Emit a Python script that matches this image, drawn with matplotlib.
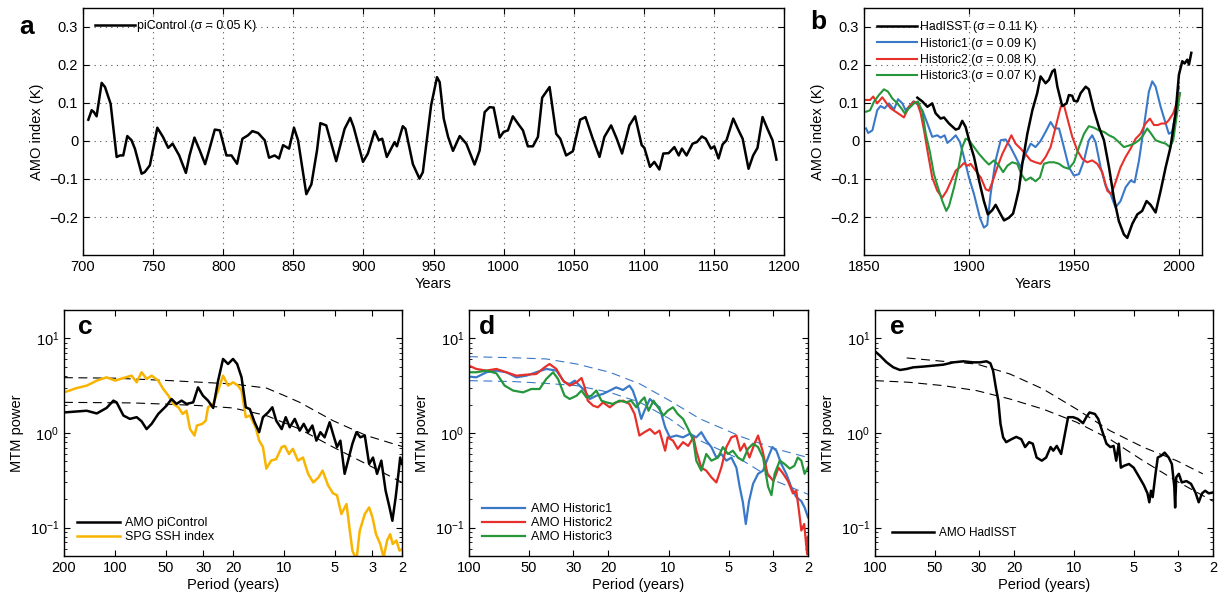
import matplotlib
matplotlib.use("Agg")
import matplotlib.pyplot as plt
from matplotlib.ticker import FixedLocator, FixedFormatter, NullLocator

plt.rcParams['font.family'] = ['Liberation Sans', 'DejaVu Sans']
plt.rcParams['xtick.direction'] = 'in'
plt.rcParams['ytick.direction'] = 'in'
plt.rcParams['xtick.top'] = True
plt.rcParams['ytick.right'] = True
plt.rcParams['axes.linewidth'] = 1.0

BLUE = '#3a78c8'
RED = '#e8302a'
GREEN = '#25963a'
ORANGE = '#f8b400'

# ---- panel a: piControl AMO index ----
a_years = [703.8, 706.2, 707.8, 709.7, 713.3, 715.7, 719.7, 724, 726.4, 728.7, 731.6, 734.6, 737,
           741.8, 744, 747.7, 753, 757, 760.8, 763.9, 768.6, 773.4, 776, 779.5, 783.3, 787.1,
           789.9, 794, 797.6, 802.3, 805.9, 809.9, 813.7, 817.7, 820.8, 824.9, 829.6, 832.7,
           836.7, 839.8, 842.7, 847, 850.5, 853.4, 859.3, 862.9, 866.9, 869.3, 873.5, 880.6,
           886.6, 890.6, 893, 899.7, 903.2, 908, 911, 913.4, 916.7, 922.2, 923.9, 928.1, 930,
           935.3, 940, 942.4, 948.3, 952.5, 954.4, 957.3, 960.4, 963.9, 968.7, 973.4, 979.3,
           982.9, 986.5, 990, 992.9, 997.2, 1000, 1003.1, 1006.6, 1010.2, 1013.8, 1017.3,
           1020.9, 1024.5, 1027.5, 1032.8, 1037.5, 1040.4, 1044.6, 1049.4, 1054.6, 1058.4,
           1063.6, 1068.4, 1071.9, 1076.7, 1080.7, 1084.5, 1089.7, 1093.8, 1098.5, 1100.4,
           1104.4, 1107.5, 1111.1, 1113.9, 1117.7, 1121.8, 1124.9, 1127.2, 1130.5, 1134.8,
           1137.8, 1141.4, 1144.2, 1147.9, 1150.3, 1153.3, 1156.2, 1159, 1163.8, 1167.6,
           1170.5, 1174.7, 1178, 1181.1, 1184.7, 1188.2, 1191.8, 1194.6]
a_amo = [0.056, 0.081, 0.076, 0.065, 0.153, 0.142, 0.098, -0.042, -0.038, -0.038, 0.013, 0.002,
         -0.020, -0.086, -0.082, -0.064, 0.035, 0.011, -0.018, -0.007, -0.038, -0.084, -0.038,
         0.009, -0.025, -0.061, -0.025, 0.030, 0.028, -0.038, -0.038, -0.060, 0.006, 0.015,
         0.026, 0.021, 0.002, -0.044, -0.038, -0.046, -0.011, -0.020, 0.035, 0.002, -0.140,
         -0.114, -0.025, 0.047, 0.041, -0.053, 0.032, 0.061, 0.037, -0.055, -0.033, 0.026,
         0.002, 0.006, -0.042, -0.003, -0.014, 0.039, 0.032, -0.061, -0.099, -0.082, 0.094,
         0.168, 0.155, 0.059, 0.011, -0.026, 0.013, -0.007, -0.062, -0.025, 0.076, 0.089,
         0.088, 0.009, 0.024, 0.028, 0.065, 0.046, 0.028, -0.014, -0.014, 0.011, 0.114, 0.142,
         0.019, 0.006, -0.038, -0.027, 0.056, 0.063, 0.006, -0.042, 0.011, 0.041, 0.006,
         -0.033, 0.041, 0.065, -0.011, -0.018, -0.068, -0.055, -0.075, -0.033, -0.032, -0.016,
         -0.038, -0.020, -0.038, -0.007, -0.003, 0.012, 0.006, -0.020, -0.014, -0.046, -0.009,
         0.002, 0.059, 0.028, 0.006, -0.073, -0.038, -0.018, 0.063, 0.032, 0.002, -0.049]

# ---- panel b: observed and historic AMO ----
had_years = [1875.4, 1877.8, 1880.2, 1882.5, 1884.1, 1886.5, 1888.1, 1890.5, 1893.7, 1895.2,
             1896.8, 1898.4, 1900.5, 1902.4, 1904.8, 1907.1, 1909.0, 1911.1, 1912.7, 1915.1,
             1916.7, 1919, 1921, 1922.2, 1923.8, 1925.4, 1927.8, 1930.2, 1932.5, 1934.1, 1936.5,
             1938.1, 1939.7, 1940.8, 1942.1, 1944.4, 1946.5, 1947.6, 1949.2, 1950, 1951.6,
             1953.2, 1955.6, 1957.1, 1959.5, 1961.9, 1964.3, 1966.7, 1969, 1971.4, 1973.8,
             1975.4, 1977.8, 1980.2, 1982.5, 1984.6, 1986.5, 1988.9, 1991.3, 1993.7, 1996,
             1998.4, 2000, 2001.6, 2002.7, 2004, 2004.8, 2005.9]
had_amo = [0.114, 0.104, 0.090, 0.099, 0.073, 0.059, 0.062, 0.046, 0.030, 0.033, 0.053, 0.037,
           -0.007, -0.042, -0.104, -0.158, -0.193, -0.182, -0.168, -0.193, -0.209, -0.202,
           -0.191, -0.165, -0.127, -0.060, 0.019, 0.081, 0.126, 0.170, 0.152, 0.161, 0.183,
           0.188, 0.143, 0.092, 0.099, 0.121, 0.119, 0.106, 0.104, 0.126, 0.143, 0.136, 0.081,
           0.037, 0.002, -0.069, -0.149, -0.211, -0.246, -0.255, -0.218, -0.193, -0.184,
           -0.158, -0.168, -0.188, -0.131, -0.069, -0.016, 0.073, 0.174, 0.210, 0.204, 0.214,
           0.201, 0.232]

h1_years = [1851, 1852, 1854, 1856.3, 1857.9, 1859.8, 1861.9, 1864.3, 1866.2, 1868.3, 1869.8,
            1871.4, 1873.5, 1875.4, 1877.8, 1880.2, 1882.5, 1884.9, 1886.5, 1888.4, 1889.7,
            1891.3, 1893.7, 1895.7, 1897.6, 1900, 1902.4, 1905.2, 1907.1, 1908.7, 1910.3,
            1912.7, 1915.1, 1917.5, 1919.8, 1922.2, 1924.6, 1927, 1929.4, 1931.7, 1934.1,
            1936.5, 1938.9, 1940.8, 1942.9, 1945.2, 1947.6, 1950, 1952.4, 1954.8, 1957.1,
            1958.7, 1960.3, 1962.7, 1965.1, 1967.5, 1969.8, 1972.2, 1974.6, 1977, 1978.9, 1981,
            1983.3, 1985.7, 1987.3, 1988.9, 1991.3, 1993.7, 1995.2, 1996.8, 1998.4, 2000]
h1_amo = [0.033, 0.021, 0.028, 0.081, 0.092, 0.086, 0.099, 0.083, 0.110, 0.099, 0.081, 0.090,
          0.104, 0.097, 0.081, 0.046, 0.011, 0.015, 0.009, 0.015, -0.005, 0.002, 0.015, -0.003,
          -0.042, -0.096, -0.140, -0.202, -0.228, -0.221, -0.140, -0.051, 0.002, 0.004, -0.016,
          -0.042, -0.069, -0.034, -0.007, -0.016, 0.0, 0.024, 0.050, 0.033, 0.033, -0.016,
          -0.069, -0.091, -0.087, -0.051, 0.002, 0.015, -0.003, -0.069, -0.118, -0.140, -0.175,
          -0.158, -0.122, -0.104, -0.109, -0.051, 0.037, 0.130, 0.157, 0.143, 0.090, 0.046,
          0.019, 0.024, 0.073, 0.143]

h2_years = [1851, 1852.9, 1854.4, 1856.3, 1858.7, 1860.8, 1862.7, 1865.1, 1867.5, 1869,
            1871.4, 1873.8, 1875.4, 1877, 1878.6, 1880.2, 1882.5, 1884.9, 1887.3, 1889.4,
            1891.6, 1893.7, 1895.7, 1897.6, 1899.2, 1900.8, 1903.2, 1905.6, 1908, 1909.5,
            1911.1, 1913.5, 1915.9, 1918.3, 1920.2, 1922.2, 1924.6, 1927, 1929.4, 1931.7,
            1934.1, 1936.5, 1938.9, 1941.3, 1943.7, 1945.2, 1947.1, 1949.2, 1951.6, 1954,
            1956.3, 1958.7, 1961.1, 1963.5, 1965.9, 1967.8, 1969.8, 1972.2, 1974.6, 1977,
            1979.4, 1981.7, 1984.1, 1986.2, 1988.1, 1990, 1991.6, 1993.7, 1995.2, 1997.3,
            1999.2, 2000.5]
h2_amo = [0.108, 0.108, 0.117, 0.099, 0.115, 0.099, 0.086, 0.077, 0.068, 0.062, 0.090, 0.104,
          0.099, 0.073, 0.028, -0.025, -0.096, -0.131, -0.149, -0.131, -0.104, -0.078, -0.069,
          -0.058, -0.065, -0.060, -0.078, -0.096, -0.127, -0.131, -0.109, -0.069, -0.034,
          -0.007, 0.015, -0.007, -0.020, -0.035, -0.051, -0.056, -0.060, -0.042, -0.016,
          0.037, 0.090, 0.095, 0.055, 0.011, -0.025, -0.047, -0.056, -0.051, -0.060, -0.082,
          -0.131, -0.140, -0.109, -0.069, -0.042, -0.020, 0.006, 0.019, 0.046, 0.059, 0.042,
          0.042, 0.046, 0.046, 0.055, 0.073, 0.104, 0.126]

h3_years = [1851, 1852.9, 1854.8, 1857.1, 1859.5, 1861.4, 1863.5, 1865.9, 1867.8, 1869.4,
            1871.4, 1873.8, 1875.7, 1877.8, 1879.4, 1881.4, 1883.3, 1885.2, 1887.3, 1889.2,
            1890.5, 1892.9, 1895.2, 1896.8, 1898.4, 1900, 1902.4, 1904.8, 1907.5, 1909.5,
            1911.9, 1914.3, 1916.3, 1918.3, 1920.6, 1923, 1924.9, 1927, 1929.4, 1931.7,
            1933.8, 1935.7, 1938.1, 1940.5, 1942.9, 1945.2, 1947.6, 1950, 1952.4, 1954.8,
            1957.1, 1959.5, 1961.9, 1964.3, 1966.7, 1969, 1971.4, 1973.8, 1976.2, 1978.6,
            1981, 1983, 1984.9, 1986.8, 1988.9, 1991.3, 1993.7, 1995.7, 1997.3, 1998.9, 2000.5]
h3_amo = [0.077, 0.081, 0.104, 0.121, 0.136, 0.130, 0.112, 0.099, 0.086, 0.073, 0.086, 0.099,
          0.104, 0.077, 0.019, -0.029, -0.087, -0.122, -0.158, -0.184, -0.171, -0.122, -0.065,
          -0.016, 0.006, 0.002, -0.016, -0.034, -0.051, -0.062, -0.051, -0.065, -0.082,
          -0.065, -0.056, -0.060, -0.087, -0.104, -0.096, -0.106, -0.096, -0.060, -0.056,
          -0.056, -0.060, -0.069, -0.073, -0.056, -0.016, 0.019, 0.039, 0.035, 0.028, 0.024,
          0.015, 0.009, -0.003, -0.016, -0.012, -0.007, 0.002, 0.015, 0.033, 0.019, 0.002,
          -0.003, -0.007, -0.016, 0.002, 0.064, 0.126]

# ---- panel c: MTM spectra, piControl AMO and SPG SSH index ----
c_amo_period = [200, 146.8, 128, 112, 102, 97.7, 89, 81.5, 74.3, 69.5, 64.9, 60.6, 55.4, 49.4,
                46.2, 43.2, 40.3, 37.7, 34.4, 32.2, 30.1, 28.1, 26.2, 24.5, 22.9, 21.4, 20.0,
                18.9, 17.8, 16.8, 15.9, 14.9, 14.0, 13.3, 12.4, 11.7, 11.1, 10.3, 9.75, 9.23,
                8.62, 8.06, 7.63, 7.19, 6.78, 6.42, 6.08, 5.74, 5.36, 5.12, 4.85, 4.63, 4.37,
                4.17, 3.93, 3.72, 3.53, 3.32, 3.13, 2.97, 2.81, 2.65, 2.50, 2.37, 2.28, 2.18,
                2.10, 2.05, 2.0]
c_amo_power = [1.65, 1.72, 1.61, 1.84, 2.20, 2.11, 1.53, 1.41, 1.47, 1.33, 1.10, 1.25, 1.59,
               1.95, 2.29, 2.03, 2.20, 2.03, 2.11, 3.04, 2.48, 2.20, 1.84, 3.58, 6.07, 5.37,
               6.07, 5.37, 3.88, 1.87, 1.79, 1.30, 1.02, 1.47, 1.65, 1.87, 1.35, 1.10, 1.47,
               1.15, 1.41, 1.06, 1.25, 1.02, 1.20, 0.83, 1.02, 0.90, 1.30, 0.98, 0.71, 0.83,
               0.37, 0.51, 0.77, 1.02, 0.90, 0.94, 0.47, 0.55, 0.37, 0.51, 0.245, 0.163, 0.118,
               0.209, 0.37, 0.55, 0.47]
c_ssh_period = [200, 168, 146.8, 128, 112, 99.7, 89, 79.7, 74.3, 69.5, 64.9, 60.6, 55.4, 51.7,
                48.2, 45.1, 42.1, 39.7, 37.7, 35.9, 33.8, 32.7, 30.4, 29.0, 28.1, 26.2, 24.5,
                22.9, 21.4, 20.0, 18.7, 17.8, 16.8, 15.9, 14.7, 14.0, 13.3, 12.7, 11.9, 11.1,
                10.3, 9.87, 9.33, 8.85, 8.25, 7.71, 7.19, 6.70, 6.23, 5.90, 5.48, 5.12, 4.85,
                4.57, 4.26, 4.07, 3.93, 3.72, 3.56, 3.32, 3.13, 2.99, 2.85, 2.69, 2.57, 2.45,
                2.35, 2.27, 2.16, 2.07, 2.0]
c_ssh_power = [2.69, 2.99, 3.17, 3.58, 3.88, 3.58, 3.82, 4.04, 3.44, 4.39, 3.73, 4.04, 3.58,
               2.92, 2.48, 2.03, 1.87, 1.59, 1.72, 1.10, 0.94, 1.20, 1.25, 1.35, 1.87, 2.03,
               2.81, 4.04, 3.17, 3.44, 3.17, 2.81, 1.47, 1.53, 1.15, 0.83, 0.71, 0.42, 0.51,
               0.53, 0.71, 0.73, 0.60, 0.68, 0.51, 0.55, 0.37, 0.30, 0.34, 0.40, 0.28, 0.23,
               0.22, 0.139, 0.177, 0.092, 0.057, 0.045, 0.092, 0.139, 0.163, 0.128, 0.085,
               0.067, 0.048, 0.073, 0.085, 0.067, 0.073, 0.057, 0.059]
c_upper_period = [200, 100, 50, 31.8, 20, 12.7, 10, 8.06, 5.12, 3.25, 2.0]
c_upper_power = [3.85, 3.8, 3.6, 3.45, 3.3, 2.99, 2.5, 2.11, 1.35, 0.94, 0.72]
c_lower_period = [200, 78, 50, 31.8, 20, 12.7, 8.06, 5.12, 3.25, 2.0]
c_lower_power = [2.11, 2.08, 2.02, 1.95, 1.84, 1.53, 1.10, 0.71, 0.47, 0.30]

# ---- panel d: MTM spectra, historic runs ----
d_h1_period = [100, 91.9, 81.8, 72.9, 65.0, 57.9, 51.6, 46.0, 41.0, 36.5, 33.2, 31.3, 29.5, 27.9,
               26.3, 24.8, 23.0, 21.3, 19.7, 18.3, 16.9, 15.7, 15.1, 14.5, 13.7, 13.2, 12.4,
               11.7, 11.1, 10.4, 9.86, 9.14, 8.46, 7.83, 7.26, 6.85, 6.47, 6.10, 5.76, 5.44,
               5.13, 4.84, 4.57, 4.40, 4.24, 4.10, 3.95, 3.77, 3.56, 3.36, 3.17, 3.02, 2.88,
               2.72, 2.57, 2.43, 2.29, 2.16, 2.08, 2.0]
d_h1_power = [3.95, 3.88, 4.39, 4.57, 4.39, 3.88, 4.04, 4.39, 4.76, 4.57, 3.44, 3.30, 3.58,
              3.17, 2.81, 2.29, 2.48, 2.59, 2.81, 3.04, 2.85, 3.17, 2.81, 2.20, 1.41, 1.72,
              2.29, 2.03, 1.87, 1.15, 0.90, 0.94, 0.90, 0.98, 0.90, 1.02, 0.83, 0.71, 0.55,
              0.60, 0.51, 0.55, 0.43, 0.27, 0.185, 0.109, 0.19, 0.29, 0.37, 0.40, 0.55, 0.71,
              0.65, 0.47, 0.37, 0.27, 0.21, 0.19, 0.163, 0.128]
d_h2_period = [100, 91.9, 81.8, 72.9, 65.0, 57.9, 51.6, 46.0, 41.8, 39.5, 36.5, 33.8, 31.3, 28.9,
               27.3, 26.3, 25.4, 23.9, 22.6, 21.3, 19.7, 18.3, 16.9, 15.7, 14.8, 14.0, 13.2,
               12.4, 11.7, 11.1, 10.4, 10.1, 9.5, 9.0, 8.46, 7.97, 7.5, 7.26, 6.85, 6.47, 6.10,
               5.76, 5.44, 5.13, 4.84, 4.57, 4.37, 4.17, 3.93, 3.71, 3.56, 3.38, 3.19, 2.98,
               2.81, 2.66, 2.52, 2.38, 2.29, 2.22, 2.16, 2.09, 2.02, 2.0]
d_h2_power = [5.16, 4.76, 4.57, 4.76, 4.39, 4.04, 4.14, 4.21, 4.95, 5.37, 4.76, 3.58, 3.17,
              3.44, 3.82, 3.04, 2.20, 1.95, 1.87, 2.11, 1.87, 2.11, 2.20, 2.03, 1.59, 0.94,
              1.02, 1.10, 0.98, 1.06, 0.65, 0.90, 0.83, 0.68, 0.80, 0.73, 0.90, 0.65, 0.43,
              0.40, 0.34, 0.30, 0.43, 0.71, 0.90, 0.94, 0.65, 0.77, 0.55, 0.77, 0.94, 0.65,
              0.37, 0.31, 0.43, 0.37, 0.31, 0.23, 0.245, 0.15, 0.093, 0.109, 0.052, 0.08]
d_h3_period = [100, 91.9, 81.8, 72.9, 66.3, 60.1, 53.6, 48.7, 44.3, 41.0, 37.9, 35.8, 33.2, 31.3,
               28.9, 27.3, 25.8, 24.4, 23.0, 21.7, 20.5, 19.0, 17.6, 16.3, 15.4, 14.5, 13.7,
               13.2, 12.6, 11.9, 11.3, 10.6, 10.1, 9.5, 9.0, 8.46, 7.97, 7.5, 7.26, 6.85, 6.47,
               6.10, 5.65, 5.34, 5.04, 4.76, 4.49, 4.24, 4.0, 3.77, 3.56, 3.36, 3.17, 3.05,
               2.94, 2.77, 2.62, 2.47, 2.34, 2.25, 2.16, 2.08, 2.0]
d_h3_power = [4.39, 4.39, 4.57, 4.28, 3.17, 2.81, 2.69, 2.92, 2.92, 3.73, 4.39, 3.73, 2.48,
              2.29, 2.48, 2.81, 2.38, 2.48, 2.81, 2.20, 2.11, 2.03, 2.20, 2.11, 2.20, 1.87,
              2.20, 2.38, 1.72, 2.20, 1.87, 1.53, 1.72, 1.87, 1.59, 1.41, 1.10, 0.83, 0.51,
              0.40, 0.60, 0.51, 0.55, 0.71, 0.60, 0.65, 0.55, 0.51, 0.68, 0.77, 0.71, 0.55,
              0.27, 0.22, 0.37, 0.51, 0.47, 0.42, 0.45, 0.55, 0.51, 0.37, 0.43]
d_upper_period = [100, 60, 41, 28.9, 19.7, 13.9, 9.86, 6.95, 4.24, 2.9, 2.0]
d_upper_power = [6.42, 6.25, 6.07, 5.37, 4.39, 3.30, 2.20, 1.41, 0.90, 0.68, 0.55]
d_lower_period = [100, 60, 41, 28.9, 19.7, 13.9, 9.86, 6.95, 4.24, 2.9, 2.0]
d_lower_power = [3.58, 3.50, 3.35, 3.17, 2.69, 2.11, 1.41, 0.83, 0.51, 0.31, 0.225]

# ---- panel e: MTM spectrum, HadISST AMO ----
e_had_period = [100, 94.4, 87.4, 80.9, 74.9, 69.3, 64.2, 57.2, 50.9, 45.4, 40.4, 36.0, 32.1,
                29.7, 27.5, 26.3, 25.5, 24.7, 24.0, 23.4, 22.7, 21.9, 20.6, 19.5, 18.4, 17.6,
                16.8, 16.1, 15.4, 14.5, 13.8, 13.1, 12.7, 12.2, 11.6, 11.1, 10.7, 10.1, 9.57,
                9.0, 8.67, 8.35, 7.85, 7.55, 7.18, 6.86, 6.56, 6.32, 6.13, 5.95, 5.81, 5.60,
                5.29, 5.01, 4.73, 4.45, 4.27, 4.18, 4.10, 4.02, 3.89, 3.79, 3.64, 3.50, 3.34,
                3.22, 3.13, 3.10, 3.06, 2.97, 2.87, 2.72, 2.58, 2.45, 2.36, 2.27, 2.19, 2.10, 2.0]
e_had_power = [7.31, 6.58, 5.59, 4.95, 4.64, 4.76, 4.95, 5.04, 5.16, 5.28, 5.59, 5.73, 5.59,
               5.59, 5.73, 5.46, 4.57, 3.04, 2.20, 1.25, 0.90, 0.80, 0.86, 0.91, 0.86, 0.71,
               0.80, 0.77, 0.55, 0.51, 0.55, 0.71, 0.65, 0.73, 0.60, 0.98, 1.47, 1.47, 1.41,
               1.27, 1.47, 1.65, 1.59, 1.41, 1.02, 0.77, 0.71, 0.73, 0.51, 0.77, 0.43, 0.45,
               0.47, 0.43, 0.35, 0.28, 0.23, 0.185, 0.245, 0.21, 0.37, 0.55, 0.575, 0.62, 0.55,
               0.47, 0.27, 0.163, 0.34, 0.37, 0.30, 0.31, 0.29, 0.235, 0.185, 0.23, 0.245, 0.23,
               0.235]
e_upper_period = [69.3, 45.4, 30.9, 21, 14.3, 9.7, 6.6, 4.5, 3.05, 2.25]
e_upper_power = [6.22, 5.73, 5.37, 4.21, 2.92, 1.79, 1.06, 0.71, 0.51, 0.37]
e_lower_period = [100, 67.5, 45.4, 30.9, 21, 14.3, 9.7, 6.6, 4.5, 3.05, 2.0]
e_lower_power = [3.58, 3.44, 3.17, 2.81, 2.29, 1.79, 1.30, 0.86, 0.51, 0.31, 0.19]

amo_ticks = [-0.2, -0.1, 0, 0.1, 0.2, 0.3]
amo_labels = ['\u22120.2', '\u22120.1', '0', '0.1', '0.2', '0.3']
period_ticks_c = [200, 100, 50, 30, 20, 10, 5, 3, 2]
period_ticks = [100, 50, 30, 20, 10, 5, 3, 2]

W, H = 1218, 599
fig = plt.figure(figsize=(W / 100, H / 100), dpi=100)


def box(x0, y0, x1, y1):
    # pixel box (left, top, right, bottom) -> figure fraction
    return [x0 / W, 1 - y1 / H, (x1 - x0) / W, (y1 - y0) / H]


def style_time_axis(ax):
    ax.set_ylim(-0.3, 0.35)
    ax.yaxis.set_major_locator(FixedLocator(amo_ticks))
    ax.yaxis.set_major_formatter(FixedFormatter(amo_labels))
    ax.grid(True, linestyle=(0, (1, 4)), color='#555555', linewidth=0.8)
    ax.tick_params(labelsize=10.5, length=4)
    ax.set_ylabel('AMO index (K)', fontsize=10.5, labelpad=4)
    ax.set_xlabel('Years', fontsize=10.5, labelpad=2)


def style_spec_axis(ax, xmax, ticks):
    ax.set_xscale('log')
    ax.set_yscale('log')
    ax.set_xlim(xmax, 2)
    ax.set_ylim(0.05, 20)
    ax.xaxis.set_major_locator(FixedLocator(ticks))
    ax.xaxis.set_major_formatter(FixedFormatter([str(t) for t in ticks]))
    ax.xaxis.set_minor_locator(NullLocator())
    ax.tick_params(labelsize=10.5, length=4)
    ax.tick_params(which='minor', length=2)
    ax.set_xlabel('Period (years)', fontsize=10.5, labelpad=2)
    ax.set_ylabel('MTM power', fontsize=10.5, labelpad=4)


# panel a
ax_a = fig.add_axes(box(83, 8, 784, 255))
ax_a.plot(a_years, a_amo, color='black', lw=1.8, label='piControl (\u03c3 = 0.05 K)')
ax_a.set_xlim(700, 1200)
ax_a.set_xticks(range(700, 1201, 50))
style_time_axis(ax_a)
ax_a.legend(loc='upper left', frameon=False, fontsize=8.9, handlelength=3.2,
            borderaxespad=0.6, handletextpad=0.15)
fig.text(27 / W, 1 - 27 / H, 'a', fontsize=19, fontweight='bold', va='center', ha='center')

# panel b
ax_b = fig.add_axes(box(864, 8, 1202, 255))
ax_b.plot(had_years, had_amo, color='black', lw=1.8, label='HadISST (\u03c3 = 0.11 K)', zorder=5)
ax_b.plot(h1_years, h1_amo, color=BLUE, lw=1.5, label='Historic1 (\u03c3 = 0.09 K)')
ax_b.plot(h2_years, h2_amo, color=RED, lw=1.5, label='Historic2 (\u03c3 = 0.08 K)')
ax_b.plot(h3_years, h3_amo, color=GREEN, lw=1.5, label='Historic3 (\u03c3 = 0.07 K)')
ax_b.set_xlim(1850, 2011)
ax_b.set_xticks([1850, 1900, 1950, 2000])
style_time_axis(ax_b)
ax_b.legend(loc='upper left', frameon=False, fontsize=8.8, handlelength=3.2,
            borderaxespad=0.7, handletextpad=0.3, labelspacing=0.35)
fig.text(818 / W, 1 - 22 / H, 'b', fontsize=19, fontweight='bold', va='center', ha='center')

# panel c
ax_c = fig.add_axes(box(64, 310, 402, 556))
ax_c.plot(c_upper_period, c_upper_power, color='black', lw=0.8, ls=(0, (8, 5)))
ax_c.plot(c_lower_period, c_lower_power, color='black', lw=0.8, ls=(0, (8, 5)))
ax_c.plot(c_amo_period, c_amo_power, color='black', lw=1.8, label='AMO piControl', zorder=5)
ax_c.plot(c_ssh_period, c_ssh_power, color=ORANGE, lw=1.8, label='SPG SSH index')
style_spec_axis(ax_c, 200, period_ticks_c)
ax_c.legend(loc='lower left', frameon=False, fontsize=9, handlelength=3.4,
            borderaxespad=0.65, handletextpad=0.4, labelspacing=0.15)
ax_c.text(0.04, 0.93, 'c', transform=ax_c.transAxes, fontsize=19, fontweight='bold',
          va='center', ha='left')

# panel d
ax_d = fig.add_axes(box(469, 310, 808, 556))
ax_d.plot(d_upper_period, d_upper_power, color=BLUE, lw=0.8, ls=(0, (8, 5)))
ax_d.plot(d_lower_period, d_lower_power, color=BLUE, lw=0.8, ls=(0, (8, 5)))
ax_d.plot(d_h1_period, d_h1_power, color=BLUE, lw=1.6, label='AMO Historic1')
ax_d.plot(d_h2_period, d_h2_power, color=RED, lw=1.6, label='AMO Historic2')
ax_d.plot(d_h3_period, d_h3_power, color=GREEN, lw=1.6, label='AMO Historic3')
style_spec_axis(ax_d, 100, period_ticks)
ax_d.legend(loc='lower left', frameon=False, fontsize=9, handlelength=3.4,
            borderaxespad=0.65, handletextpad=0.5, labelspacing=0.15)
ax_d.text(0.03, 0.93, 'd', transform=ax_d.transAxes, fontsize=19, fontweight='bold',
          va='center', ha='left')

# panel e
ax_e = fig.add_axes(box(875, 310, 1213, 556))
ax_e.plot(e_upper_period, e_upper_power, color='black', lw=0.8, ls=(0, (8, 5)))
ax_e.plot(e_lower_period, e_lower_power, color='black', lw=0.8, ls=(0, (8, 5)))
ax_e.plot(e_had_period, e_had_power, color='black', lw=1.8, label='AMO HadISST')
style_spec_axis(ax_e, 100, period_ticks)
ax_e.legend(loc='lower left', frameon=False, fontsize=8.5, handlelength=3.6,
            borderaxespad=1.0, handletextpad=0.4)
ax_e.text(0.045, 0.93, 'e', transform=ax_e.transAxes, fontsize=19, fontweight='bold',
          va='center', ha='left')

fig.savefig('out.png', dpi=100)
